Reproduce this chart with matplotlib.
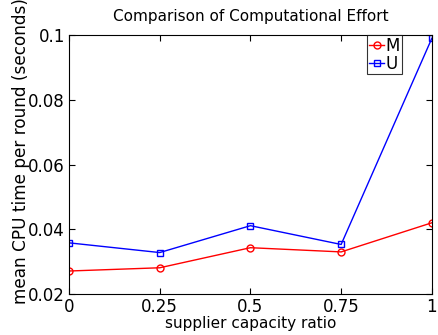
import matplotlib
matplotlib.use("Agg")
import matplotlib.pyplot as plt

ratios = [0, 0.25, 0.5, 0.75, 1]
cpu_m = [0.0271, 0.0281, 0.0343, 0.0330, 0.0420]
cpu_u = [0.0358, 0.0328, 0.0411, 0.0353, 0.0990]
xtick_labels = ["0", "0.25", "0.5", "0.75", "1"]
ytick_vals = [0.02, 0.04, 0.06, 0.08, 0.1]
ytick_labels = ["0.02", "0.04", "0.06", "0.08", "0.1"]

fig = plt.figure(figsize=(4.38, 3.35), dpi=100)
ax = fig.add_axes([0.1575, 0.1224, 0.8285, 0.7731])

ax.plot(ratios, cpu_m, color="red", marker="o", markersize=5, markerfacecolor="none",
        linewidth=1, label="M")
ax.plot(ratios, cpu_u, color="blue", marker="s", markersize=4.5, markerfacecolor="none",
        linewidth=1, label="U")

ax.set_xlim(0, 1)
ax.set_ylim(0.02, 0.1)
ax.set_xticks(ratios)
ax.set_xticklabels(xtick_labels)
ax.set_yticks(ytick_vals)
ax.set_yticklabels(ytick_labels)
ax.tick_params(direction="in", top=True, right=True, labelsize=12, length=4, pad=3)

ax.set_title("Comparison of Computational Effort", fontsize=11, pad=10)
ax.set_xlabel("supplier capacity ratio", fontsize=11, labelpad=0)
ax.set_ylabel("mean CPU time per round (seconds)", fontsize=12.2)
ax.yaxis.set_label_coords(-0.108, 0.55)

leg = ax.legend(loc="upper right", bbox_to_anchor=(0.917, 1.0), fontsize=12,
                frameon=True, fancybox=False, edgecolor="black", handlelength=0.9,
                handletextpad=0.1, borderpad=0.1, labelspacing=0.0, borderaxespad=0)
leg.get_frame().set_linewidth(0.8)

fig.savefig("out.png", dpi=100)
